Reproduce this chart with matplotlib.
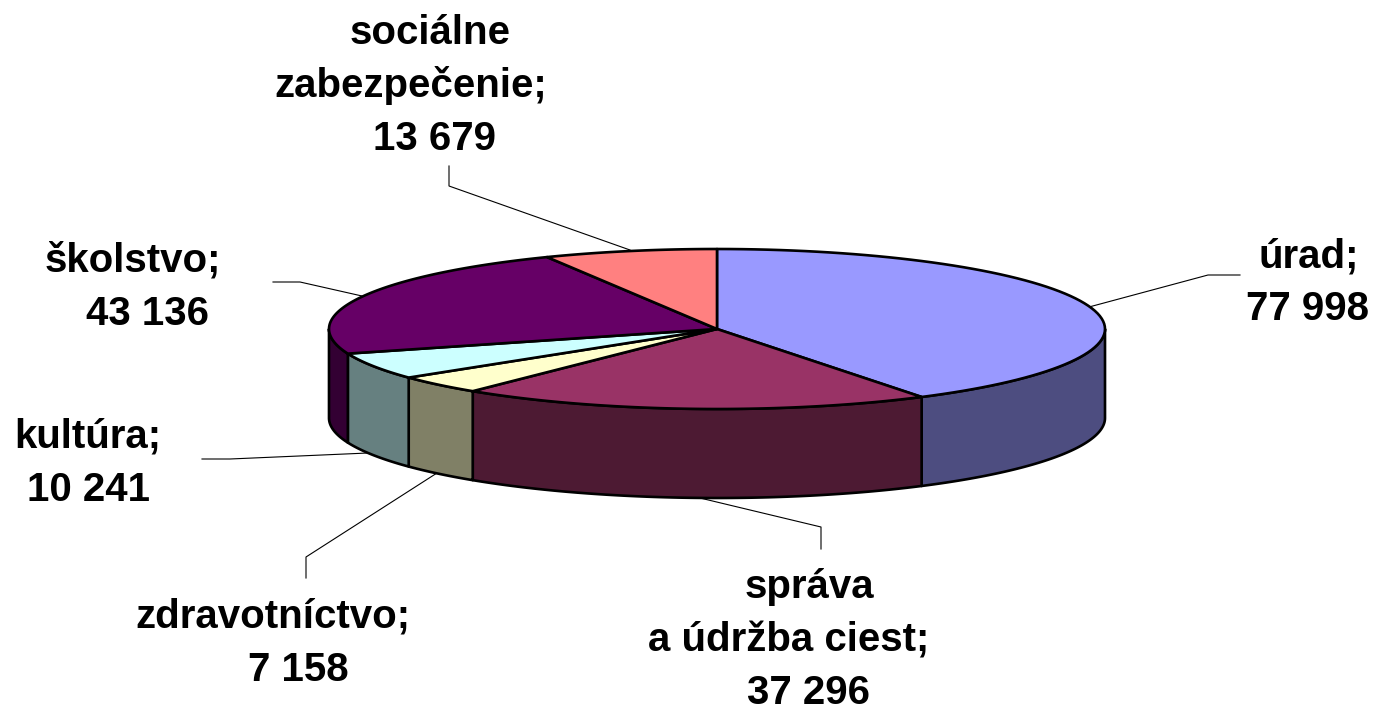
import numpy as np
import matplotlib
matplotlib.use("Agg")
import matplotlib.pyplot as plt
from matplotlib.patches import Polygon

categories = ["úrad", "správa\na údržba ciest", "zdravotníctvo", "kultúra", "školstvo", "sociálne\nzabezpečenie"]
value_labels = ["77 998", "37 296", "7 158", "10 241", "43 136", "13 679"]
values = [77998, 37296, 7158, 10241, 43136, 13679]
top_colors = ["#9999FF", "#993366", "#FFFFCC", "#CCFFFF", "#660066", "#FF8080"]
side_colors = ["#4D4D80", "#4D1A33", "#808066", "#668080", "#330033", "#804040"]

# pie geometry in pixels
cx, cy = 717, 329
rx, ry = 388, 80
depth = 89

W, H = 1375, 706
fig = plt.figure(figsize=(W / 100, H / 100), dpi=100)
ax = fig.add_axes([0, 0, 1, 1])
ax.set_xlim(0, W)
ax.set_ylim(H, 0)
ax.axis("off")
plt.rcParams['font.family'] = ['Liberation Sans', 'DejaVu Sans']


def rim(a0, a1, n=80):
    t = np.linspace(a0, a1, n)
    return cx + rx * np.sin(t), cy - ry * np.cos(t)


edges = np.concatenate([[0], np.cumsum(values)]) / np.sum(values) * 2 * np.pi
edge = "black"
lw = 1.9

# sides, only the front half of the rim shows
for i in range(len(values)):
    a0 = max(edges[i], np.pi / 2)
    a1 = min(edges[i + 1], 3 * np.pi / 2)
    if a1 <= a0:
        continue
    x, y = rim(a0, a1)
    pts = np.column_stack([np.r_[x, x[::-1]], np.r_[y, y[::-1] + depth]])
    ax.add_patch(Polygon(pts, closed=True, fc=side_colors[i], ec=edge, lw=lw, zorder=2, joinstyle="round"))

# top
for i in range(len(values)):
    x, y = rim(edges[i], edges[i + 1])
    pts = np.column_stack([np.r_[cx, x], np.r_[cy, y]])
    ax.add_patch(Polygon(pts, closed=True, fc=top_colors[i], ec=edge, lw=lw, zorder=3, joinstyle="round"))

# leader lines
leaders = [
    [(1089, 307), (1208, 275), (1240, 275)],
    [(700, 498), (821, 527), (821, 549)],
    [(437, 473), (306, 557), (306, 578)],
    [(368, 453), (230, 459), (202, 459)],
    [(362, 296), (300, 282), (273, 282)],
    [(630, 250), (449, 186), (449, 166)],
]
for pts in leaders:
    p = np.array(pts)
    ax.plot(p[:, 0], p[:, 1], color="black", lw=0.8, zorder=1)

# labels, one text per line, placed on the baseline
label_lines = [
    [("úrad;", 1309, 267), (value_labels[0], 1308, 320)],
    [("správa", 809, 598), ("a údržba ciest;", 789, 651), (value_labels[1], 809, 704)],
    [("zdravotníctvo;", 273, 628), (value_labels[2], 298, 681)],
    [("kultúra;", 88, 448), (value_labels[3], 89, 501)],
    [("školstvo;", 133, 272), (value_labels[4], 148, 325)],
    [("sociálne", 430, 44), ("zabezpečenie;", 411, 97), (value_labels[5], 435, 150)],
]
for lines in label_lines:
    for s, x, y in lines:
        ax.text(x, y, s, ha="center", va="baseline", fontsize=29, fontweight="bold", color="black")

fig.savefig("out.png", dpi=100, facecolor="white")
